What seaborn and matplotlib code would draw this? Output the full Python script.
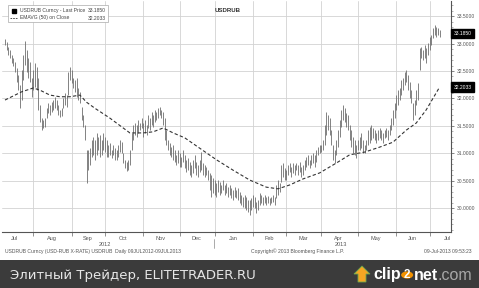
import numpy as np
import pandas as pd
import matplotlib
matplotlib.use("Agg")
import matplotlib.pyplot as plt
import matplotlib.ticker as mticker
from matplotlib.patches import Rectangle, Polygon, Circle
from matplotlib.lines import Line2D
from matplotlib.transforms import blended_transform_factory
import seaborn as sns

# ---------------- data ----------------
START, END = "2012-07-09", "2013-07-09"

high = [
    33.08, 33.03, 32.94, 32.88, 32.79, 32.74, 32.66, 32.55, 32.43, 32.24,
    32.52, 32.79, 33.05, 32.88, 32.74, 32.66, 32.37, 32.52, 32.65, 32.57,
    32.37, 31.88, 31.64, 31.61, 31.64, 31.82, 31.92, 31.88, 31.93, 31.97,
    32.03, 31.97, 31.88, 31.79, 31.82, 32.01, 32.10, 32.06, 32.48, 32.57,
    32.52, 32.37, 32.34, 32.37, 32.19, 32.12, 31.84, 31.70, 31.51, 31.06,
    31.06, 31.09, 31.24, 31.30, 31.24, 31.37, 31.30, 31.33, 31.24, 31.37,
    31.30, 31.24, 31.15, 31.19, 31.06, 31.15, 31.09, 31.06, 31.15, 31.24,
    31.20, 31.00, 30.88, 30.84, 30.88, 31.06, 31.37, 31.51, 31.55, 31.51,
    31.61, 31.55, 31.64, 31.55, 31.61, 31.51, 31.70, 31.64, 31.75, 31.70,
    31.79, 31.75, 31.82, 31.84, 31.79, 31.75, 31.64, 31.42, 31.24, 31.19,
    31.11, 31.15, 31.06, 30.97, 31.06, 31.00, 30.93, 31.06, 30.97, 30.88,
    30.91, 30.84, 30.78, 30.88, 30.97, 30.84, 30.78, 30.88, 31.02, 30.82,
    30.78, 30.75, 30.69, 30.64, 30.60, 30.55, 30.51, 30.46, 30.51, 30.47,
    30.42, 30.51, 30.42, 30.46, 30.38, 30.42, 30.36, 30.33, 30.38, 30.33,
    30.36, 30.29, 30.24, 30.20, 30.24, 30.20, 30.15, 30.15, 30.18, 30.24,
    30.20, 30.11, 30.15, 30.27, 30.24, 30.20, 30.24, 30.20, 30.22, 30.18,
    30.20, 30.24, 30.20, 30.42, 30.51, 30.46, 30.78, 30.82, 30.73, 30.69,
    30.78, 30.82, 30.75, 30.82, 30.78, 30.82, 30.78, 30.84, 30.75, 30.78,
    30.88, 30.93, 30.97, 30.88, 30.97, 31.00, 30.97, 31.06, 31.11, 31.15,
    31.15, 31.24, 31.51, 31.75, 31.70, 31.64, 31.42, 31.15, 31.06, 31.24,
    31.42, 31.61, 31.79, 31.88, 31.82, 31.73, 31.70, 31.51, 31.42, 31.30,
    31.24, 31.15, 31.24, 31.30, 31.37, 31.24, 31.15, 31.24, 31.42, 31.48,
    31.51, 31.46, 31.42, 31.37, 31.42, 31.46, 31.42, 31.37, 31.42, 31.46,
    31.42, 31.51, 31.64, 31.79, 31.92, 32.06, 32.15, 32.19, 32.34, 32.37,
    32.48, 32.52, 32.43, 32.30, 32.15, 31.92, 31.97, 32.15, 32.28, 32.92,
    32.94, 32.88, 32.97, 32.92, 33.01, 33.12, 33.16, 33.28, 33.34, 33.30,
    33.28, 33.25,
]

low = [
    32.97, 32.88, 32.79, 32.74, 32.65, 32.59, 32.48, 32.30, 32.15, 31.82,
    31.97, 32.34, 32.61, 32.48, 32.37, 32.30, 32.03, 32.15, 32.21, 32.15,
    31.79, 31.57, 31.42, 31.46, 31.48, 31.64, 31.73, 31.70, 31.75, 31.79,
    31.82, 31.79, 31.70, 31.66, 31.68, 31.82, 31.88, 31.84, 32.06, 32.34,
    32.28, 32.19, 32.12, 32.03, 31.97, 31.92, 31.61, 31.48, 31.24, 30.46,
    30.69, 30.78, 30.93, 30.97, 30.88, 30.97, 31.06, 30.93, 30.97, 31.06,
    31.02, 30.93, 30.93, 30.97, 30.91, 30.97, 30.88, 30.88, 30.93, 31.02,
    31.00, 30.82, 30.73, 30.68, 30.69, 30.78, 31.06, 31.24, 31.33, 31.30,
    31.37, 31.42, 31.46, 31.30, 31.37, 31.33, 31.46, 31.42, 31.51, 31.48,
    31.57, 31.61, 31.64, 31.70, 31.64, 31.51, 31.24, 31.15, 31.06, 30.97,
    30.93, 30.88, 30.84, 30.78, 30.82, 30.75, 30.75, 30.84, 30.73, 30.66,
    30.69, 30.60, 30.57, 30.64, 30.73, 30.60, 30.57, 30.66, 30.69, 30.60,
    30.57, 30.60, 30.51, 30.33, 30.20, 30.27, 30.24, 30.20, 30.29, 30.24,
    30.27, 30.33, 30.24, 30.27, 30.20, 30.24, 30.18, 30.15, 30.20, 30.18,
    30.15, 30.09, 30.05, 30.02, 30.00, 29.96, 29.93, 29.87, 29.96, 30.02,
    30.00, 29.91, 29.96, 30.05, 30.09, 30.05, 30.09, 30.05, 30.09, 30.05,
    30.09, 30.11, 30.05, 30.18, 30.24, 30.29, 30.47, 30.57, 30.51, 30.51,
    30.60, 30.66, 30.57, 30.64, 30.60, 30.69, 30.60, 30.66, 30.57, 30.60,
    30.69, 30.75, 30.78, 30.73, 30.78, 30.82, 30.75, 30.84, 30.97, 31.00,
    31.02, 31.06, 31.15, 31.33, 31.42, 31.33, 31.15, 30.88, 30.82, 30.97,
    31.11, 31.30, 31.48, 31.61, 31.57, 31.48, 31.42, 31.24, 31.11, 31.00,
    30.97, 30.91, 31.06, 31.06, 31.09, 31.00, 31.00, 31.06, 31.15, 31.19,
    31.24, 31.28, 31.24, 31.19, 31.24, 31.28, 31.24, 31.19, 31.28, 31.30,
    31.24, 31.33, 31.42, 31.51, 31.64, 31.79, 31.88, 31.97, 32.06, 32.15,
    32.24, 32.30, 32.15, 32.01, 31.92, 31.61, 31.70, 31.88, 31.97, 32.52,
    32.74, 32.70, 32.74, 32.65, 32.79, 32.88, 32.97, 33.10, 33.16, 33.12,
    33.16, 33.12,
]

ema_dates = [
    "2012-07-09", "2012-07-23", "2012-08-01", "2012-08-07", "2012-08-15",
    "2012-08-23", "2012-08-31", "2012-09-10", "2012-09-14", "2012-09-21",
    "2012-10-04", "2012-10-22", "2012-11-01", "2012-11-09", "2012-11-19",
    "2012-11-27", "2012-12-06", "2012-12-19", "2013-01-02", "2013-01-16",
    "2013-01-30", "2013-02-13", "2013-02-22", "2013-03-05", "2013-03-15",
    "2013-03-29", "2013-04-12", "2013-04-24", "2013-05-07", "2013-05-20",
    "2013-05-30", "2013-06-11", "2013-06-19", "2013-06-27", "2013-07-09",
]
ema_values = [
    31.97, 32.12, 32.19, 32.15, 32.06,
    32.03, 32.03, 32.06, 31.93, 31.82,
    31.64, 31.37, 31.37, 31.39, 31.46,
    31.37, 31.28, 31.09, 30.88, 30.69,
    30.51, 30.38, 30.35, 30.42, 30.53,
    30.64, 30.82, 30.97, 31.02, 31.11,
    31.20, 31.42, 31.55, 31.79, 32.2033,
]

month_names = ["Jul", "Aug", "Sep", "Oct", "Nov", "Dec", "Jan",
               "Feb", "Mar", "Apr", "May", "Jun", "Jul"]
year_names = ["2012", "2013"]
y_ticks = [30.0, 30.5, 31.0, 31.5, 32.0, 32.5, 33.0, 33.5]
last_price = 33.1850
last_ema = 32.2033

# ---------------- figure ----------------
sns.set_theme(style="white")
plt.rcParams["font.family"] = ["Liberation Sans", "DejaVu Sans"]

W, H = 479, 288
fig = plt.figure(figsize=(W / 100, H / 100), dpi=100, facecolor="white")


def fx(x):
    return x / W


def fy(y):
    return 1 - y / H


ax = fig.add_axes([fx(2), fy(232), 449 / W, 231 / H])
ax.set_facecolor("white")

days = pd.bdate_range(START, END)
idx = np.arange(len(days))
df = pd.DataFrame({"i": idx, "high": high, "low": low})

starts = [i for i in range(1, len(days)) if days[i].month != days[i - 1].month]

full = pd.bdate_range("2012-07-01", "2013-07-31")
offset = full.get_loc(pd.Timestamp(START))
per = full.to_period("M")
centers = [np.mean(np.where(per == p)[0]) - offset for p in per.unique()]
yr = full.year
year_centers = [np.mean(np.where(yr == int(y))[0]) - offset for y in year_names]

# bars
ax.vlines(df["i"], df["low"], df["high"], color="#6e6e6e", lw=0.6, zorder=3)

# EMA
ema_x = days.get_indexer(pd.to_datetime(ema_dates))
sns.lineplot(x=ema_x, y=ema_values, ax=ax, color="#333333", lw=0.8, zorder=4)
ax.lines[-1].set_linestyle((0, (3.0, 2.0)))

ax.set_xlim(-1.8, 267.9)
ax.set_ylim(29.562, 33.777)

ax.set_xticks(starts)
ax.set_xticks(centers, minor=True)
ax.set_xticklabels([""] * len(starts))
ax.set_xticklabels(month_names, minor=True)
ax.set_yticks(y_ticks)
ax.yaxis.set_major_formatter(mticker.FormatStrFormatter("%.4f"))
ax.yaxis.set_minor_locator(mticker.MultipleLocator(0.1))
ax.yaxis.tick_right()
ax.grid(True, which="major", color="#d2d2d2", lw=0.6, zorder=0)
ax.set_axisbelow(True)

ax.tick_params(axis="x", which="major", bottom=True, length=3, width=0.5,
               color="#666666", direction="out")
ax.tick_params(axis="x", which="minor", bottom=True, length=0, pad=3,
               labelsize=4, labelcolor="#555555")
ax.tick_params(axis="y", which="major", right=True, left=False, length=2.5,
               width=0.5, color="#555555", direction="out", pad=1.5,
               labelsize=3.6, labelcolor="#555555")
ax.tick_params(axis="y", which="minor", right=True, left=False, length=1.2,
               width=0.4, color="#777777", direction="out")

for s in ["top", "left"]:
    ax.spines[s].set_visible(False)
for s in ["right", "bottom"]:
    ax.spines[s].set_color("#555555")
    ax.spines[s].set_linewidth(0.8)

xt = ax.get_xaxis_transform()
for c, y in zip(year_centers, year_names):
    ax.text(c, -0.052, y, transform=xt, ha="center", va="center",
            fontsize=4, color="#555555", clip_on=False)
ax.plot([starts[5] - 0.5] * 2, [-0.03, -0.068], transform=xt, color="#888888",
        lw=0.5, clip_on=False)

bt = blended_transform_factory(ax.transAxes, ax.transData)
for v in (last_price, last_ema):
    ax.text(1.006, v, f"{v:.4f}", transform=bt, ha="left", va="center",
            fontsize=3.6, color="white", clip_on=False, zorder=6,
            bbox=dict(boxstyle="square,pad=0.45", fc="black", ec="black"))

# legend box
fig.add_artist(Rectangle((fx(8), fy(22)), 100 / W, 17 / H, transform=fig.transFigure,
                         fc="white", ec="#aaaaaa", lw=0.5))
fig.add_artist(Line2D([fx(14)], [fy(10.5)], marker="s", ms=2.2, color="black",
                      transform=fig.transFigure))
fig.add_artist(Line2D([fx(10), fx(18)], [fy(18), fy(18)], ls=(0, (2, 1.2)), lw=0.6,
                      color="#333333", transform=fig.transFigure))
fig.text(fx(20), fy(10.5), "USDRUB Curncy - Last Price", fontsize=3.6, color="#444444",
         va="center")
fig.text(fx(106), fy(10.5), f"{last_price:.4f}", fontsize=3.6, color="#444444",
         va="center", ha="right")
fig.text(fx(20), fy(18), "EMAVG (50) on Close", fontsize=3.6, color="#444444",
         va="center")
fig.text(fx(106), fy(18), f"{last_ema:.4f}", fontsize=3.6, color="#444444",
         va="center", ha="right")

fig.text(fx(228), fy(10.5), "USDRUB", fontsize=4.4, fontweight="bold", color="#333333",
         ha="center", va="center")

# footer
fig.text(fx(5), fy(251.5), "USDRUB Curncy (USD-RUB X-RATE) USDRUB  Daily 09JUL2012-09JUL2013",
         fontsize=3.6, color="#555555", va="center")
fig.text(fx(298), fy(251.5), "Copyright\u00a9 2013 Bloomberg Finance L.P.",
         fontsize=3.6, color="#555555", va="center", ha="center")
fig.text(fx(472), fy(251.5), "09-Jul-2013 09:53:23",
         fontsize=3.6, color="#555555", va="center", ha="right")

# dark banner
fig.add_artist(Rectangle((0, 0), 1, 28 / H, transform=fig.transFigure,
                         fc="#3b3b3b", ec="none", zorder=0))
fig.text(fx(10), fy(275), "Элитный Трейдер, ELITETRADER.RU", fontsize=9.5,
         color="#e6e6e6", va="center", family=["DejaVu Sans"])

# clip2net logo, laid out left to right
arrow = [(362, 266), (370, 274), (366, 274), (366, 282), (358, 282), (358, 274), (354, 274)]
fig.add_artist(Polygon([(fx(a), fy(b)) for a, b in arrow], closed=True,
                       transform=fig.transFigure, fc="#f5a623", ec="#6aa84f", lw=0.6))
renderer = fig.canvas.get_renderer()
xpos = 373.0
t = fig.text(fx(xpos), fy(275), "clip", fontsize=11.5, fontweight="bold", color="white",
             va="center", ha="left")
xpos = t.get_window_extent(renderer).x1 + 0.5
r = 6.0
fig.add_artist(Circle((fx(xpos + r), fy(275)), r / W, transform=fig.transFigure,
                      fc="#f39200", ec="none"))
fig.text(fx(xpos + r), fy(275.3), "2", fontsize=8.5, fontweight="bold", color="white",
         va="center", ha="center")
xpos = xpos + 2 * r + 0.5
t = fig.text(fx(xpos), fy(275), "net", fontsize=11.5, fontweight="bold", color="white",
             va="center", ha="left")
xpos = t.get_window_extent(renderer).x1
fig.text(fx(xpos), fy(275), ".com", fontsize=11.5, color="#a8a8a8",
         va="center", ha="left")

fig.savefig("out.png", dpi=100, facecolor="white")
